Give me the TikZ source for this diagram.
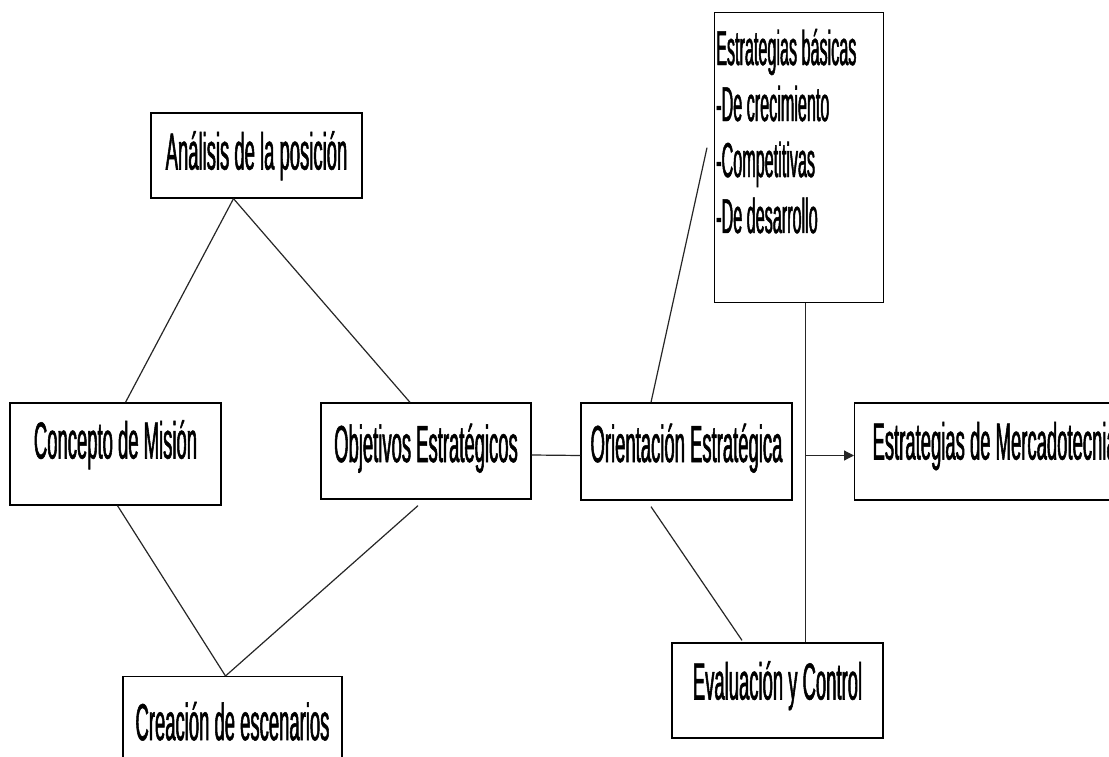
\documentclass[tikz,border=0pt]{standalone}
\usepackage{fontspec}
\setmainfont{Liberation Sans}[FakeStretch=0.355,FakeBold=1]
\newfontfamily\ebfont{Liberation Sans}[FakeStretch=0.33,FakeBold=1]
\usetikzlibrary{arrows.meta,calc}
\begin{document}
\begin{tikzpicture}[x=1pt,y=-1pt,
  box/.style={draw=black, line width=1.3pt, fill=white, inner xsep=0pt, inner ysep=0pt,
    text height=37pt, font=\fontsize{52}{56}\selectfont},
  link/.style={draw=black!85, line width=1.2pt},
  arr/.style={link, -{Triangle[length=10pt,width=10pt]}}]
\clip (0,0) rectangle (1109,757);
\fill[white] (0,0) rectangle (1109,757);
% boxes
\node[box, minimum width=211pt, minimum height=85pt, text depth=9pt] (an) at (256.5,155.5) {Análisis de la posición};
\node[box, minimum width=211pt, minimum height=102pt, text depth=28pt] (cm) at (115.5,454) {Concepto de Misión};
\node[box, minimum width=210pt, minimum height=96pt, text depth=15pt] (ob) at (426,451) {Objetivos Estratégicos};
\node[box, minimum width=211pt, minimum height=97pt, text depth=16pt] (or) at (686.5,451.5) {Orientación Estratégica};
\node[box, anchor=west, inner xsep=13pt, minimum width=280pt, minimum height=97pt, text depth=21pt, align=left] (mk) at (854,451.5) {Estrategias de Mercadotecnia};
\node[box, minimum width=211pt, minimum height=95pt, text depth=19pt] (ev) at (777.5,690.5) {Evaluación y Control};
\node[box, anchor=north, minimum width=219pt, minimum height=90pt, text depth=0pt] (cr) at (232.5,676) {Creación de escenarios};
\node[box, anchor=north west, minimum width=169pt, minimum height=290pt] (eb) at (714,12) {};
\node[anchor=base west, inner sep=0pt, align=left,
  font=\ebfont\fontsize{49}{56}\selectfont] (ebt) at (716,233)
  {Estrategias básicas\\-De crecimiento\\-Competitivas\\-De desarrollo};
% connectors
\draw[link] ([xshift=-23pt]an.south) -- ([xshift=10pt]cm.north);
\draw[link] ([xshift=-23pt]an.south) -- ([xshift=-16pt]ob.north);
\draw[link] ([xshift=2pt]cm.south) -- ([xshift=-7pt]cr.north);
\draw[link] ([xshift=-8pt,yshift=-6pt]ob.south) -- ([xshift=-7pt]cr.north);
\draw[link] ([yshift=-4pt]ob.east) -- ([yshift=-4pt]or.west);
\draw[link] ([xshift=-35.5pt]or.north) -- ([xshift=-7pt,yshift=10pt]eb.west);
\draw[link] ([xshift=-35.5pt,yshift=-6pt]or.south) -- ([xshift=-35.5pt,yshift=2pt]ev.north);
\draw[link] ([xshift=6.5pt]eb.south) coordinate (vt) -- (vt |- ev.north);
\coordinate (j) at ([yshift=-4pt]vt |- or.east);
\draw[arr] (j) -- (j -| mk.west);
\end{tikzpicture}
\end{document}
